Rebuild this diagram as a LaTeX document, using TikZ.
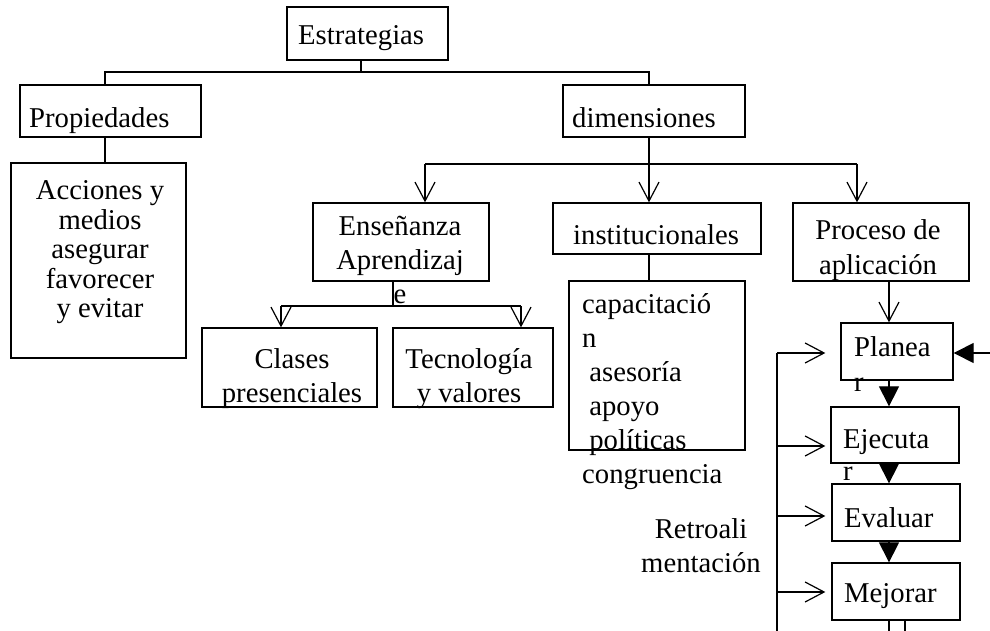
\documentclass[tikz,border=0pt]{standalone}
\usepackage{fontspec}
\setmainfont{Liberation Serif}
\usetikzlibrary{arrows.meta}
\newcommand{\cstack}[1]{\begin{tabular}[t]{@{}c@{}}#1\end{tabular}}
\newcommand{\lstack}[1]{\begin{tabular}[t]{@{}l@{}}#1\end{tabular}}

\begin{document}
\begin{tikzpicture}[
  x=1pt, y=-1pt,
  font=\fontsize{28.7}{34}\selectfont,
  box/.style={draw,line width=1.3pt,inner sep=0pt},
  txt/.style={inner sep=0pt,anchor=base},
  txl/.style={inner sep=0pt,anchor=base west},
  ln/.style={line width=1.2pt},
  oarr/.style={ln,-{Straight Barb[length=19pt,width=20pt]}},
  farr/.style={ln,-{Triangle[length=20pt,width=20pt]}}
]
\useasboundingbox (0,0) rectangle (990,631);
% boxes
\node[box,minimum width=161pt,minimum height=53pt] (estr) at (367.5,33.5) {};
\node[box,minimum width=181pt,minimum height=52pt] (prop) at (110.5,111) {};
\node[box,minimum width=182pt,minimum height=52pt] (dim) at (654,111) {};
\node[box,minimum width=175pt,minimum height=195pt] (acc) at (98.5,260.5) {};
\node[box,minimum width=176pt,minimum height=78pt] (ens) at (401,242) {};
\node[box,minimum width=208pt,minimum height=51pt] (inst) at (657,228.5) {};
\node[box,minimum width=176pt,minimum height=78pt] (proc) at (881,242) {};
\node[box,minimum width=175pt,minimum height=79pt] (clas) at (289.5,367.5) {};
\node[box,minimum width=160pt,minimum height=79pt] (tec) at (473,367.5) {};
\node[box,minimum width=176pt,minimum height=169pt] (cap) at (657,365.5) {};
\node[box,minimum width=112pt,minimum height=57pt] (plan) at (897,351.5) {};
\node[box,minimum width=128pt,minimum height=56pt] (ejec) at (895,435) {};
\node[box,minimum width=128pt,minimum height=57pt] (eval) at (896,512.5) {};
\node[box,minimum width=128pt,minimum height=57pt] (mej) at (896,591.5) {};
% texts
\node[txl] (estrt) at (298,45) {Estrategias};
\node[txl] (propt) at (29,128) {Propiedades};
\node[txl] (dimt) at (572,128) {dimensiones};
\node[txt,font=\fontsize{28.7}{29.5}\selectfont] (acct) at (100,200)
  {\cstack{Acciones y\\medios\\asegurar\\favorecer\\y evitar}};
\node[txt] (enst) at (400,235) {\cstack{Enseñanza\\Aprendizaj\\e}};
\node[txl] (instt) at (573,244) {institucionales};
\node[txt,font=\fontsize{28.7}{35}\selectfont] (proct) at (878,239) {\cstack{Proceso de\\aplicación}};
\node[txt] (clast) at (292,368) {\cstack{Clases\\presenciales}};
\node[txt] (tect) at (469,368) {\cstack{Tecnología\\y valores}};
\node[txl] (capt) at (582,313)
  {\lstack{capacitació\\n\\\ asesoría\\\ apoyo\\\ políticas\\congruencia}};
\node[txl,font=\fontsize{28.7}{35}\selectfont] (plant) at (854,356) {\lstack{Planea\\r}};
\node[txl,font=\fontsize{28.7}{32}\selectfont] (eject) at (843,448) {\lstack{Ejecuta\\r}};
\node[txl] (evalt) at (844,527) {Evaluar};
\node[txl] (mejt) at (844,602) {Mejorar};
\node[txt] (retro) at (701,538) {\cstack{Retroali\\mentación}};
% joints
\coordinate (bus1) at (361,72);
\coordinate (bus1l) at (105,72);
\coordinate (bus1r) at (649,72);
\coordinate (bus2) at (649,164);
\coordinate (ensin) at (425,164);
\coordinate (procin) at (857,164);
\coordinate (bus3) at (393,306);
\coordinate (clasin) at (281,306);
\coordinate (tecin) at (521,306);
\coordinate (cyc) at (889,631);
\coordinate (out2) at (905,631);
\coordinate (fb1) at (777,353);
\coordinate (fb2) at (777,446);
\coordinate (fb3) at (777,516);
\coordinate (fb4) at (777,592);
\coordinate (fbend) at (777,631);
\coordinate (fbin) at (990,353);
% connectors
\draw[ln] (estr.south -| bus1) -- (bus1);
\draw[ln] (prop.north -| bus1l) |- (bus1r) -- (dim.north -| bus1r);
\draw[ln] (prop.south -| bus1l) -- (acc.north -| bus1l);
\draw[ln] (dim.south -| bus2) -- (bus2);
\draw[ln] (ensin) -- (procin);
\draw[oarr] (bus2) -- (inst.north -| bus2);
\draw[oarr] (ensin) -- (ens.north -| ensin);
\draw[oarr] (procin) -- (proc.north -| procin);
\draw[ln] (ens.south -| bus3) -- (bus3);
\draw[ln] (clasin) -- (tecin);
\draw[oarr] (clasin) -- (clas.north -| clasin);
\draw[oarr] (tecin) -- (tec.north -| tecin);
\draw[ln] (inst.south -| bus2) -- (cap.north -| bus2);
\draw[oarr] (proc.south -| cyc) -- (plan.north -| cyc);
\draw[farr] (plan.south -| cyc) -- (ejec.north -| cyc);
\draw[farr] (ejec.south -| cyc) -- (eval.north -| cyc);
\draw[farr] (eval.south -| cyc) -- (mej.north -| cyc);
\draw[ln] (mej.south -| cyc) -- (cyc);
\draw[ln] (mej.south -| out2) -- (out2);
\draw[ln] (fbend) -- (fb1);
\draw[oarr,shorten >=15pt] (fb1) -- (plan.west |- fb1);
\draw[oarr,shorten >=5pt] (fb2) -- (ejec.west |- fb2);
\draw[oarr,shorten >=6pt] (fb3) -- (eval.west |- fb3);
\draw[oarr,shorten >=6pt] (fb4) -- (mej.west |- fb4);
\draw[farr] (fbin) -- (plan.east |- fbin);
\end{tikzpicture}
\end{document}
